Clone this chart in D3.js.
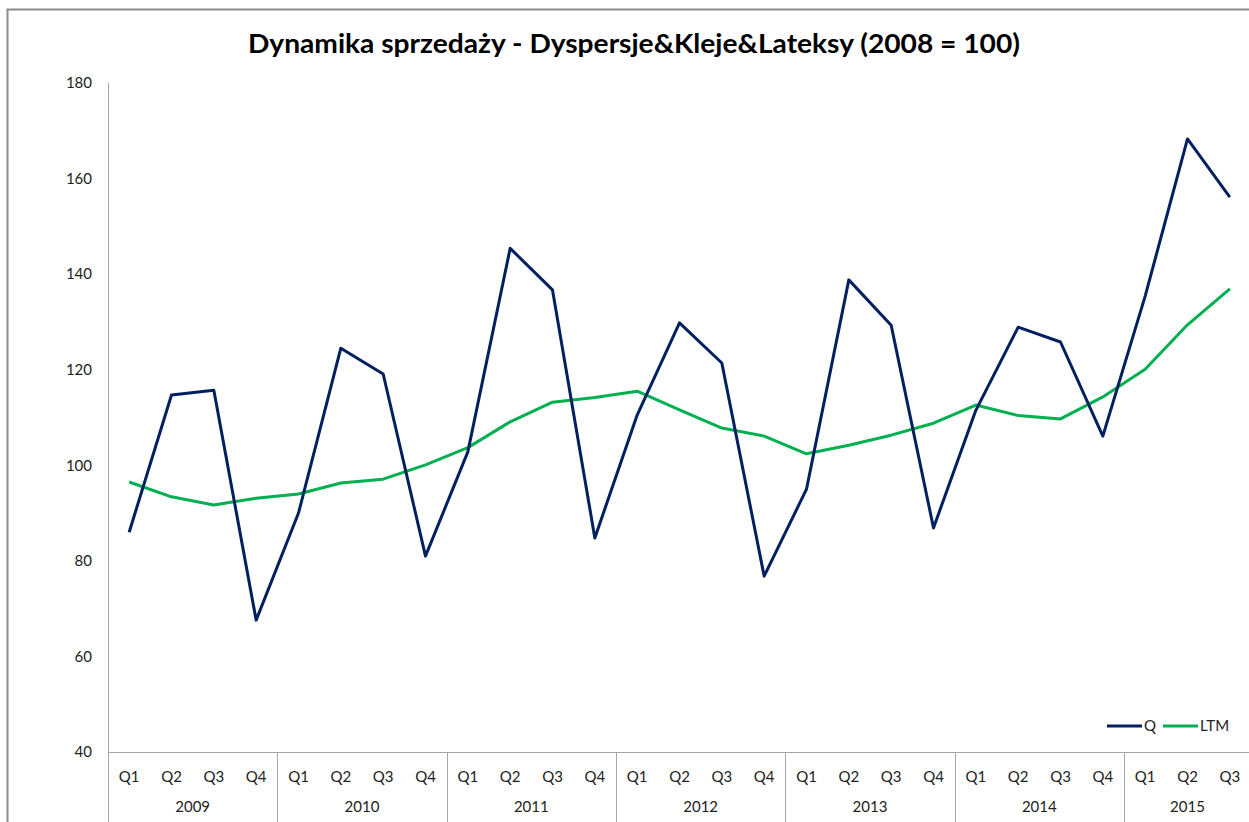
<!DOCTYPE html>
<html>
<head>
<meta charset="utf-8">
<script src="https://cdn.jsdelivr.net/npm/d3@7"></script>
<style>
  body { margin: 0; background: #fff; }
  svg { display: block; font-family: Lato, "Open Sans", sans-serif; }
</style>
</head>
<body>
<div id="chart"></div>
<script>
// data
var years = ["2009", "2010", "2011", "2012", "2013", "2014", "2015"];
var quarters = ["Q1", "Q2", "Q3", "Q4"];
var seriesQ = [86.0, 114.7, 115.7, 67.6, 90.0, 124.5, 119.1, 81.0,
               102.8, 145.4, 136.7, 84.8, 110.5, 129.8, 121.4, 76.8,
               95.0, 138.8, 129.3, 86.9, 111.5, 128.9, 125.8, 106.1,
               135.4, 168.3, 156.1];
var seriesLTM = [96.5, 93.4, 91.7, 93.1, 94.0, 96.3, 97.1, 100.1,
                 103.7, 109.1, 113.2, 114.2, 115.5, 111.6, 107.8, 106.1,
                 102.4, 104.2, 106.3, 108.8, 112.6, 110.4, 109.7, 114.3,
                 120.1, 129.4, 136.9];
var yTicks = [40, 60, 80, 100, 120, 140, 160, 180];

(function () {
  var W = 1249, H = 822;
  var plotLeft = 108, plotRight = 1251, plotTop = 83, plotBottom = 752;

  // build category list: one entry per quarter
  var cats = [];
  years.forEach(function (yr) {
    quarters.forEach(function (q) {
      if (cats.length < seriesQ.length) cats.push({ year: yr, q: q, key: yr + q });
    });
  });

  var svg = d3.select("#chart").append("svg")
    .attr("width", W)
    .attr("height", H);

  // outer chart border
  svg.append("rect")
    .attr("x", 7.5).attr("y", 9.5)
    .attr("width", W + 20).attr("height", H + 20)
    .attr("fill", "none")
    .attr("stroke", "#8c8c8c")
    .attr("stroke-width", 2);

  svg.append("text")
    .attr("x", 634).attr("y", 53)
    .attr("text-anchor", "middle")
    .attr("font-size", 27)
    .attr("font-weight", "bold")
    .attr("fill", "#000")
    .attr("textLength", 772)
    .attr("lengthAdjust", "spacingAndGlyphs")
    .text("Dynamika sprzedaży - Dyspersje&Kleje&Lateksy (2008 = 100)");

  var x = d3.scaleBand()
    .domain(cats.map(function (d) { return d.key; }))
    .range([plotLeft, plotRight]);

  var y = d3.scaleLinear()
    .domain([40, 180])
    .range([plotBottom, plotTop]);

  // y axis
  var yAxis = d3.axisLeft(y).tickValues(yTicks).tickSize(0).tickPadding(16);
  var gy = svg.append("g").attr("transform", "translate(" + plotLeft + ",0)").call(yAxis);
  gy.select(".domain").remove();
  gy.selectAll("text").attr("font-size", 15).attr("fill", "#222")
    .attr("font-family", "Lato, sans-serif");

  var axisColor = "#a6a6a6";
  svg.append("line")
    .attr("x1", plotLeft + 0.5).attr("x2", plotLeft + 0.5)
    .attr("y1", plotTop).attr("y2", H)
    .attr("stroke", axisColor);
  svg.append("line")
    .attr("x1", plotLeft).attr("x2", W)
    .attr("y1", plotBottom + 0.5).attr("y2", plotBottom + 0.5)
    .attr("stroke", axisColor);

  // quarter labels
  svg.append("g").selectAll("text")
    .data(cats)
    .enter().append("text")
    .attr("x", function (d) { return x(d.key) + x.bandwidth() / 2; })
    .attr("y", 782)
    .attr("text-anchor", "middle")
    .attr("font-size", 15)
    .attr("fill", "#222")
    .text(function (d) { return d.q; });

  // year groups and separators
  years.forEach(function (yr, i) {
    var inYear = cats.filter(function (d) { return d.year === yr; });
    var x0 = x(inYear[0].key);
    var x1 = x(inYear[inYear.length - 1].key) + x.bandwidth();
    svg.append("text")
      .attr("x", (x0 + x1) / 2)
      .attr("y", 812)
      .attr("text-anchor", "middle")
      .attr("font-size", 15)
      .attr("fill", "#222")
      .text(yr);
    if (i > 0) {
      svg.append("line")
        .attr("x1", Math.round(x0) + 0.5).attr("x2", Math.round(x0) + 0.5)
        .attr("y1", plotBottom).attr("y2", H)
        .attr("stroke", axisColor);
    }
  });

  var line = d3.line()
    .x(function (d, i) { return x(cats[i].key) + x.bandwidth() / 2; })
    .y(function (d) { return y(d); });

  svg.append("path")
    .datum(seriesLTM)
    .attr("d", line)
    .attr("fill", "none")
    .attr("stroke", "#00b050")
    .attr("stroke-width", 3)
    .attr("stroke-linejoin", "round");

  svg.append("path")
    .datum(seriesQ)
    .attr("d", line)
    .attr("fill", "none")
    .attr("stroke", "#002060")
    .attr("stroke-width", 3)
    .attr("stroke-linejoin", "round");

  // legend
  var legend = [
    { name: "Q", color: "#002060", x: 1107 },
    { name: "LTM", color: "#00b050", x: 1163 }
  ];
  legend.forEach(function (l) {
    svg.append("line")
      .attr("x1", l.x).attr("x2", l.x + 35)
      .attr("y1", 726).attr("y2", 726)
      .attr("stroke", l.color)
      .attr("stroke-width", 3);
    svg.append("text")
      .attr("x", l.x + 37).attr("y", 731)
      .attr("font-size", 15)
      .attr("fill", "#222")
      .text(l.name);
  });
})();
</script>
</body>
</html>
